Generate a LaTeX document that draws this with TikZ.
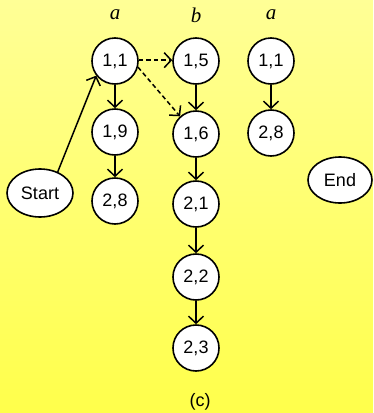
\documentclass[tikz,border=0pt]{standalone}
\usepackage{fontspec}
\setmainfont{Liberation Sans}
\newfontfamily\serifit{Liberation Serif}
\usetikzlibrary{arrows.meta,shapes.geometric}
\definecolor{bgtop}{RGB}{255,255,150}
\definecolor{bgbot}{RGB}{255,255,75}
\tikzset{
  st/.style={circle,draw=black,fill=white,line width=1.6pt,minimum size=46pt,inner sep=0pt,font=\fontsize{18}{18}\selectfont},
  ell/.style={ellipse,draw=black,fill=white,line width=1.6pt,inner sep=0pt,font=\fontsize{18}{18}\selectfont},
  lab/.style={font=\serifit\itshape\fontsize{21}{21}\selectfont},
  arr/.style={line width=1.5pt,-{Straight Barb[length=7pt,width=15pt,line width=1.5pt]}},
  darr/.style={arr,dash pattern=on 4.5pt off 3pt}
}
\begin{document}
\begin{tikzpicture}[x=1pt,y=-1pt]
\useasboundingbox (0,0) rectangle (373,413);
\shade[top color=bgtop,bottom color=bgbot] (0,0) rectangle (373,413);
\node[lab] (la) at (115,15) {a};
\node[lab] (lb) at (196,15) {b};
\node[lab] (lc) at (271,15) {a};
\node[st] (n11) at (115,61) {1,1};
\node[st] (n19) at (115,132) {1,9};
\node[st] (n28a) at (115,201) {2,8};
\node[st] (n15) at (196,61) {1,5};
\node[st] (n16) at (196,134) {1,6};
\node[st] (n21) at (196,204) {2,1};
\node[st] (n22) at (196,277) {2,2};
\node[st] (n23) at (196,348) {2,3};
\node[st] (n11b) at (271,61) {1,1};
\node[st] (n28b) at (271,133) {2,8};
\node[ell,minimum width=66pt,minimum height=48pt] (start) at (40,193) {Start};
\node[ell,minimum width=64pt,minimum height=46pt] (end) at (340,180) {End};
\node[font=\fontsize{18}{18}\selectfont] (cap) at (200,402) {(c)};
\draw[arr] (start.50) -- (n11.218);
\draw[arr] (n11) -- (n19);
\draw[arr] (n19) -- (n28a);
\draw[arr] (n15) -- (n16);
\draw[arr] (n16) -- (n21);
\draw[arr] (n21) -- (n22);
\draw[arr] (n22) -- (n23);
\draw[arr] (n11b) -- (n28b);
\draw[darr] (n11.2) -- (n15.178);
\draw[darr] (n11.-15) -- (n16.132);
\end{tikzpicture}
\end{document}
